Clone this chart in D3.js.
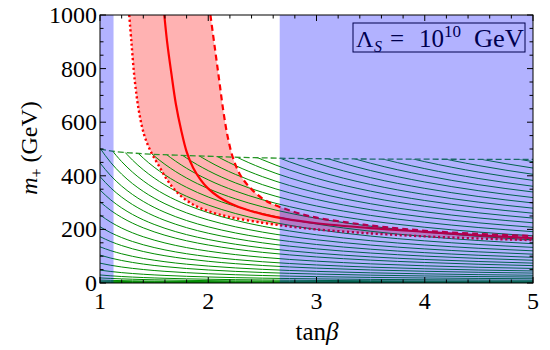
<!DOCTYPE html>
<html><head><meta charset="utf-8">
<script src="https://cdn.jsdelivr.net/npm/d3@7"></script>
<style>body{margin:0;background:#fff} svg{display:block}</style>
</head><body>
<svg id="c" width="550" height="350"></svg>
<script>
// ---- data ----
const xTicks = [1, 2, 3, 4, 5];
const yTicks = [0, 200, 400, 600, 800, 1000];
const excludedLeft = [1, 1.125];
const excludedRight = [2.66, 5];
// upper validity boundary (green dashed)
const boundary = [[1,500],[1.15,490],[1.3,485],[1.46,481],[1.7,477],[1.92,474],[2.3,469],[2.76,465],[3.3,463],[4,462],[5,461]];
// contour levels: value of each green curve at tanβ = 1 (GeV)
const contourLevels = [2,4,7,11,19,30,48,74,104,135,173,210,254,303,347,397,448,503,561,622,686,753,823,896,972,1051,1133,1218,1306,1397,1491,1588,1688,1791,1897,2006,2118];
// common profile of the green curves, relative to tanβ = 1
const contourProfile = [[1,1],[1.1,0.893],[1.2,0.8075],[1.3,0.7374],[1.4,0.6792],[1.5,0.6301],[1.6,0.5881],[1.8,0.5201],[2,0.4678],[2.25,0.4171],[2.5,0.3777],[2.75,0.3463],[3,0.3207],[3.5,0.2814],[4,0.2528],[4.5,0.2309],[5,0.2138]];
// red band: central (solid), lower edge (dotted), upper edge (dashed)
const centralCurve = [[1.594,1000],[1.62,900],[1.66,780],[1.70,670],[1.75,570],[1.80,490],[1.86,430],[1.93,385],[2.0,352],[2.1,320],[2.2,298],[2.35,274],[2.5,257],[2.7,240],[3.0,223],[3.5,205],[4.0,191],[4.5,178],[5,167]];
const lowerCurve = [[1.27,1000],[1.29,900],[1.32,760],[1.36,640],[1.41,550],[1.47,490],[1.54,440],[1.62,385],[1.72,335],[1.85,295],[2.0,268],[2.2,246],[2.5,225],[2.75,211],[3.0,200],[3.5,185],[4.0,174],[4.5,166],[5,160]];
const upperCurve = [[2.02,1000],[2.06,880],[2.10,760],[2.14,640],[2.18,545],[2.23,465],[2.30,400],[2.40,350],[2.52,310],[2.7,278],[2.95,248],[3.3,225],[3.6,210],[4.0,195],[4.5,183],[5,175]];
const legendLabel = {sym:"Λ", sub:"S", eq:"=", base:"10", sup:"10", unit:"GeV"};

// ---- drawing ----
const svg = d3.select("#c");
const L=100, R=533, T=15, B=283;
const x = d3.scaleLinear().domain([1,5]).range([L,R]);
const y = d3.scaleLinear().domain([0,1000]).range([B,T]);
const serif = "'Liberation Serif','DejaVu Serif',serif";

svg.append("clipPath").attr("id","plot").append("rect")
  .attr("x",L).attr("y",T).attr("width",R-L).attr("height",B-T);
// region under the dashed boundary
svg.append("clipPath").attr("id","under").append("path")
  .attr("d", d3.line().x(d=>x(d[0])).y(d=>y(d[1])).curve(d3.curveMonotoneX)(boundary) +
     "L" + x(5) + "," + y(0) + "L" + x(1) + "," + y(0) + "Z");

const g = svg.append("g").attr("clip-path","url(#plot)");

// red band fill
const bandPts = lowerCurve.concat([[5,167]], upperCurve.slice().reverse());
g.append("path")
  .attr("d", d3.line().x(d=>x(d[0])).y(d=>y(d[1])).curve(d3.curveCatmullRom)(bandPts) + "Z")
  .attr("fill","rgb(255,0,0)").attr("fill-opacity",0.3).attr("stroke","none");

// green contours
const gc = g.append("g").attr("clip-path","url(#under)");
const cl = d3.line().x(d=>x(d[0])).y(d=>y(d[1])).curve(d3.curveMonotoneX);
contourLevels.forEach(M=>{
  gc.append("path").attr("d", cl(contourProfile.map(p=>[p[0], M*p[1]])))
    .attr("fill","none").attr("stroke","rgb(0,140,0)").attr("stroke-width",1);
});
// dashed boundary
g.append("path").attr("d", d3.line().x(d=>x(d[0])).y(d=>y(d[1])).curve(d3.curveMonotoneX)(boundary))
  .attr("fill","none").attr("stroke","rgb(40,150,40)").attr("stroke-width",1.3).attr("stroke-dasharray","6,3");

// red curves
const rl = d3.line().x(d=>x(d[0])).y(d=>y(d[1])).curve(d3.curveCatmullRom);
g.append("path").attr("d", rl(centralCurve)).attr("fill","none").attr("stroke","red").attr("stroke-width",2.2);
g.append("path").attr("d", rl(lowerCurve)).attr("fill","none").attr("stroke","red").attr("stroke-width",2.4).attr("stroke-dasharray","2.2,2.6");
g.append("path").attr("d", rl(upperCurve)).attr("fill","none").attr("stroke","red").attr("stroke-width",2.2).attr("stroke-dasharray","6,4");

// legend (under the blue overlay)
const lg = svg.append("g").attr("font-family",serif).attr("fill","#000");
lg.append("rect").attr("x",353).attr("y",23).attr("width",172).attr("height",29)
  .attr("fill","none").attr("stroke","#000").attr("stroke-width",1);
lg.append("text").attr("x",356).attr("y",47).attr("font-size",24).text(legendLabel.sym);
lg.append("text").attr("x",374).attr("y",52).attr("font-size",16).attr("font-style","italic").text(legendLabel.sub);
lg.append("text").attr("x",390).attr("y",47).attr("font-size",25).text(legendLabel.eq);
lg.append("text").attr("x",419).attr("y",47).attr("font-size",25).text(legendLabel.base);
lg.append("text").attr("x",444).attr("y",37).attr("font-size",17).text(legendLabel.sup);
lg.append("text").attr("x",474).attr("y",47).attr("font-size",25)
  .attr("textLength",50).attr("lengthAdjust","spacingAndGlyphs").text(legendLabel.unit);

// blue excluded regions
[excludedLeft, excludedRight].forEach(r=>{
  svg.append("rect").attr("x",x(r[0])).attr("y",T).attr("width",x(r[1])-x(r[0])).attr("height",B-T)
    .attr("fill","rgb(0,0,255)").attr("fill-opacity",0.3);
});

// frame
svg.append("rect").attr("x",L).attr("y",T).attr("width",R-L).attr("height",B-T)
  .attr("fill","none").attr("stroke","#000").attr("stroke-width",1);
const tk = svg.append("g").attr("stroke","#000").attr("stroke-width",1);
const xMinor = d3.range(1,5.0001,0.2), yMinor = d3.range(0,1000.001,50);
xMinor.forEach(v=>{
  const major = xTicks.some(t=>Math.abs(t-v)<1e-6), len = major?6:3.5;
  tk.append("line").attr("x1",x(v)).attr("x2",x(v)).attr("y1",B).attr("y2",B-len);
  tk.append("line").attr("x1",x(v)).attr("x2",x(v)).attr("y1",T).attr("y2",T+len);
});
yMinor.forEach(v=>{
  const major = yTicks.some(t=>Math.abs(t-v)<1e-6), len = major?6:3.5;
  tk.append("line").attr("y1",y(v)).attr("y2",y(v)).attr("x1",L).attr("x2",L+len);
  tk.append("line").attr("y1",y(v)).attr("y2",y(v)).attr("x1",R).attr("x2",R-len);
});
// tick labels
xTicks.forEach(v=>{
  svg.append("text").attr("x",x(v)).attr("y",309).attr("text-anchor","middle")
    .attr("font-family",serif).attr("font-size",24).text(v);
});
yTicks.forEach(v=>{
  svg.append("text").attr("x",L-3).attr("y",y(v)+8).attr("text-anchor","end")
    .attr("font-family",serif).attr("font-size",24).text(v);
});
// axis labels
const xl = svg.append("text").attr("x",317).attr("y",340).attr("text-anchor","middle")
  .attr("font-family",serif).attr("font-size",25);
xl.append("tspan").text("tan");
xl.append("tspan").attr("font-style","italic").text("β");
const yl = svg.append("text").attr("transform","translate(37,148) rotate(-90)").attr("text-anchor","middle")
  .attr("font-family",serif).attr("font-size",24);
yl.append("tspan").attr("font-style","italic").text("m");
yl.append("tspan").attr("font-size",16).attr("dy",5).text("+");
yl.append("tspan").attr("dy",-5).style("white-space","pre").text(" (GeV)");
</script>
</body></html>
